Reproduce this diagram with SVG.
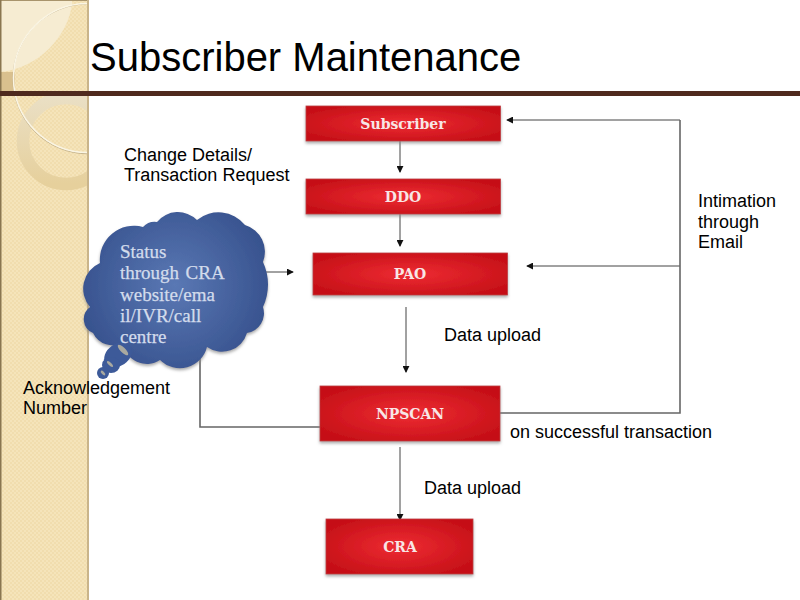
<svg xmlns="http://www.w3.org/2000/svg" width="800" height="600" viewBox="0 0 800 600">
<style>
.t{font-family:"Liberation Sans",Arial,sans-serif;font-size:18px;fill:#000}
.box{fill:url(#red);stroke:#bf3a40;stroke-width:.8;filter:url(#sh)}
.bl{font-family:"DejaVu Serif","Liberation Serif",serif;font-weight:bold;font-size:14px;fill:#f8e6e6;text-anchor:middle}
.c{fill:none;stroke:#444;stroke-width:1}
.g{fill:none;stroke:#666;stroke-width:1.6}
.cl{font-family:"Liberation Serif","DejaVu Serif",serif;font-size:19px;fill:#d3dcec;stroke:#d3dcec;stroke-width:.25}
</style>
<defs>
<radialGradient id="red" cx="50%" cy="50%" r="60%"><stop offset="0" stop-color="#ee2c33"/><stop offset="1" stop-color="#c50f17"/></radialGradient>
<radialGradient id="blue" gradientUnits="userSpaceOnUse" cx="175" cy="285" r="95"><stop offset="0" stop-color="#5a78b4"/><stop offset="1" stop-color="#38538f"/></radialGradient>
<linearGradient id="ring" x1="0" y1="0" x2="0" y2="1"><stop offset="0" stop-color="#eadfc4"/><stop offset="1" stop-color="#e6d09c"/></linearGradient>
<filter id="sh" x="-5%" y="-10%" width="110%" height="125%"><feDropShadow dx="0" dy="2" stdDeviation="1.5" flood-color="#888" flood-opacity=".7"/></filter>
<marker id="a" viewBox="0 0 8 8" refX="7" refY="4" markerWidth="7" markerHeight="7" markerUnits="userSpaceOnUse" orient="auto"><path d="M0 0L8 4L0 8z" fill="#111"/></marker>
<pattern id="chk" width="4" height="4" patternUnits="userSpaceOnUse"><rect width="4" height="4" fill="#f5e4ba"/><rect width="2" height="2" fill="#f1ddae"/><rect x="2" y="2" width="2" height="2" fill="#f1ddae"/></pattern>
<clipPath id="strip"><rect width="88" height="600"/></clipPath>
</defs>
<rect width="800" height="600" fill="#fff"/>
<g id="sidebar">
<rect width="88" height="600" fill="url(#chk)"/>
<g clip-path="url(#strip)">
<rect x="0" y="72" width="15" height="20" fill="#d9c08e"/>
<path d="M72 4C68 35 40 68 0 72L0 0H72z" fill="#f6ecd2"/>
<circle cx="66" cy="141" r="43" fill="none" stroke="url(#ring)" stroke-width="12.500"/>
<circle cx="88" cy="78.800" r="75" fill="none" stroke="#c2b08a" stroke-width="1"/>
<circle cx="88" cy="78" r="74.500" fill="none" stroke="#faf5e4" stroke-width="1.500"/>
</g>
<rect x="0" y="0" width="88" height="1" fill="#a8946c"/>
<rect x="0" width="1.500" height="600" fill="#8a7650"/>
<rect x="87" width="2" height="600" fill="#c9b48a"/>
</g>
<g id="title"><text x="90" y="71" style="font-family:'Liberation Sans',Arial,sans-serif;font-size:40px" fill="#000">Subscriber Maintenance</text>
<rect x="0" y="91" width="800" height="5" fill="#4f2a1e"/></g>
<g id="connectors">
<path class="c" d="M400 141V172" marker-end="url(#a)"/>
<path class="c" d="M400 214V246" marker-end="url(#a)"/>
<path class="c" d="M406 307V372" marker-end="url(#a)"/>
<path class="c" d="M400 447V520" marker-end="url(#a)"/>
<path class="c" d="M680 120H507" marker-end="url(#a)"/>
<path class="c" d="M680 266H527" marker-end="url(#a)"/>
<path class="c" d="M266 272H293" marker-end="url(#a)"/>
<path class="g" d="M500 413H680V120"/>
<path class="g" d="M200 358V427H320"/>
</g>
<g id="subscriber"><rect class="box" x="306" y="106" width="194.500" height="35"/><text class="bl" x="403" y="129">Subscriber</text></g>
<g id="ddo"><rect class="box" x="306" y="179" width="194.500" height="35"/><text class="bl" x="403" y="202">DDO</text></g>
<g id="pao"><rect class="box" x="313" y="253" width="194.500" height="42"/><text class="bl" x="410" y="279">PAO</text></g>
<g id="npscan"><rect class="box" x="320" y="386" width="180" height="55"/><text class="bl" x="410" y="419">NPSCAN</text></g>
<g id="cra"><rect class="box" x="326" y="519" width="147" height="55"/><text class="bl" x="400" y="552">CRA</text></g>
<g id="cloud">
<path fill="url(#blue)" filter="url(#sh)" d="M100 263A34 34 0 0 1 143 227A16 16 0 0 1 157 222A27 27 0 0 1 197 220A34 34 0 0 1 245 225A28 28 0 0 1 263 262A53 53 0 0 1 263 307A20 20 0 0 1 247 333A26 26 0 0 1 207 347A28 28 0 0 1 160 360A24 24 0 0 1 123 343A22 22 0 0 1 93 333A15 15 0 0 1 90 307A28 28 0 0 1 100 263z"/>
<ellipse cx="118" cy="355" rx="15" ry="11" transform="rotate(-35 118 355)" fill="#3d5a99"/>
<ellipse cx="123" cy="350" rx="7" ry="2.500" transform="rotate(45 123 350)" fill="#a9a9a0"/>
<ellipse cx="111" cy="365" rx="9" ry="8" fill="#3d5a99"/>
<ellipse cx="110" cy="364" rx="4" ry="1.500" transform="rotate(45 110 364)" fill="#a9a9a0"/>
<ellipse cx="103" cy="373" rx="6" ry="6" fill="#3d5a99"/>
<ellipse cx="103" cy="373" rx="3" ry="1.300" transform="rotate(45 103 373)" fill="#a9a9a0"/>
<text class="cl" x="120" y="258">Status</text>
<text class="cl" x="120" y="279" xml:space="preserve" word-spacing="-1.500">through  CRA</text>
<text class="cl" x="120" y="301">website/ema</text>
<text class="cl" x="120" y="322">il/IVR/call</text>
<text class="cl" x="120" y="343">centre</text>
</g>
<g id="labels">
<text class="t" x="124" y="161">Change Details/</text>
<text class="t" x="124" y="181">Transaction Request</text>
<text class="t" x="698" y="207">Intimation</text>
<text class="t" x="698" y="228">through</text>
<text class="t" x="698" y="248">Email</text>
<text class="t" x="444" y="341">Data upload</text>
<text class="t" x="23" y="394">Acknowledgement</text>
<text class="t" x="23" y="414">Number</text>
<text class="t" x="510" y="438">on successful transaction</text>
<text class="t" x="424" y="494">Data upload</text>
</g>
</svg>
